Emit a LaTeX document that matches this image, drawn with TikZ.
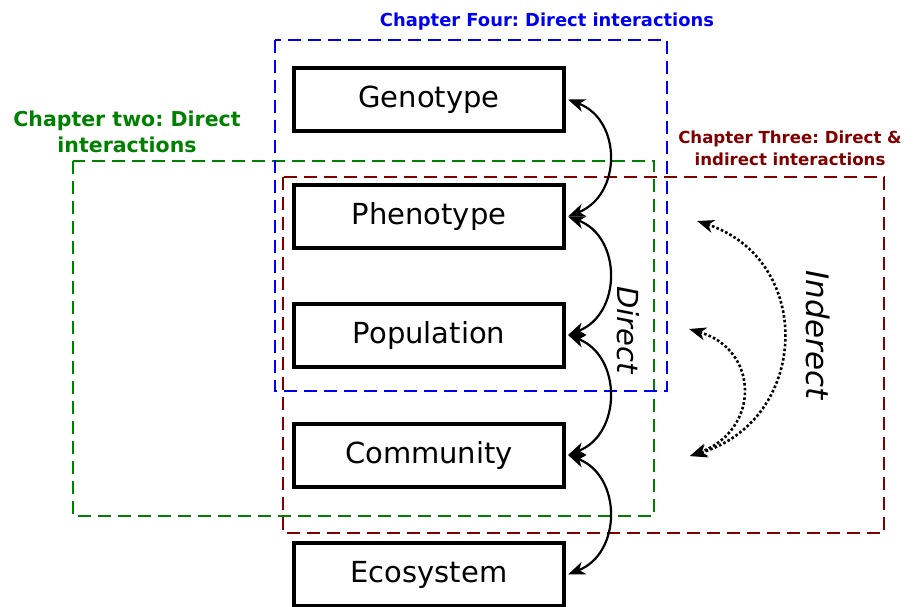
\documentclass[tikz,border=0pt]{standalone}
\usepackage{fontspec}
\setmainfont{DejaVu Sans}
\usetikzlibrary{arrows.meta}
\definecolor{cblue}{RGB}{0,0,240}
\definecolor{cgreen}{RGB}{0,128,0}
\definecolor{cred}{RGB}{128,0,0}
\tikzset{
  levelbox/.style={draw, line width=4pt, minimum width=270pt, minimum height=63pt, inner sep=0pt, font=\fontsize{29}{34}\selectfont},
  chapbox/.style={dashed, dash pattern=on 13pt off 7pt, line width=1.8pt},
  chaplabel/.style={align=center, inner sep=0pt},
  arrowtip/.style={},
  dirarrow/.style={{Stealth[length=17pt,width=13pt,inset=5pt]}-{Stealth[length=17pt,width=13pt,inset=5pt]}, line width=2.2pt},
  indarrow/.style={{Stealth[length=17pt,width=13pt,inset=5pt]}-{Stealth[length=17pt,width=13pt,inset=5pt]}, line width=2.6pt, dash pattern=on 2.6pt off 2.2pt},
}
\begin{document}
\frenchspacing
\begin{tikzpicture}[x=1pt,y=-1pt]
\useasboundingbox (0,0) rectangle (921,607);
% chapter boxes
\draw[chapbox, cgreen] (73,161) rectangle (654,516);
\draw[chapbox, cred] (283,177) rectangle (884,533);
\draw[chapbox, cblue] (275,40) rectangle (667,391);
% level boxes
\node[levelbox] (geno) at (429,99.5) {Genotype};
\node[levelbox] (pheno) at (429,216.5) {Phenotype};
\node[levelbox] (pop) at (429,335) {Population};
\node[levelbox] (comm) at (429,455) {Community};
\node[levelbox] (eco) at (429,574.5) {Ecosystem};
% direct arrows
\draw[dirarrow] ([xshift=2pt]geno.east) .. controls (622,120) and (622,195) .. ([xshift=2pt]pheno.east);
\draw[dirarrow] ([xshift=2pt]pheno.east) .. controls (622,237) and (622,314) .. ([xshift=2pt]pop.east);
\draw[dirarrow] ([xshift=2pt]pop.east) .. controls (622,356) and (622,434) .. ([xshift=2pt]comm.east);
\draw[dirarrow] ([xshift=2pt]comm.east) .. controls (622,476) and (622,553) .. ([xshift=2pt]eco.east);
% indirect arrows
\coordinate (i1) at (697,221);
\coordinate (i2) at (689,329);
\coordinate (i3) at (690,456);
\draw[indarrow] (i1) .. controls (815,260) and (810,420) .. (i3);
\draw[indarrow] (i2) .. controls (760,350) and (760,430) .. (i3);
% labels
\node[chaplabel, text=cblue, font=\bfseries\fontsize{17.9}{21}\selectfont] (l4) at (547,22) {Chapter Four: Direct interactions};
\node[chaplabel, text=cgreen, font=\bfseries\fontsize{20.5}{26}\selectfont] (l2) at (127,132) {Chapter two: Direct\\interactions};
\node[chaplabel, text=cred, font=\bfseries\fontsize{16.6}{22}\selectfont] (l3) at (790,148) {Chapter Three: Direct \&\\indirect interactions};
\node[rotate=-90, font=\itshape\fontsize{29}{34}\selectfont] (dir) at (628,330) {Direct};
\node[rotate=-90, font=\itshape\fontsize{31}{36}\selectfont] (ind) at (818,335) {Inderect};
\end{tikzpicture}
\end{document}
